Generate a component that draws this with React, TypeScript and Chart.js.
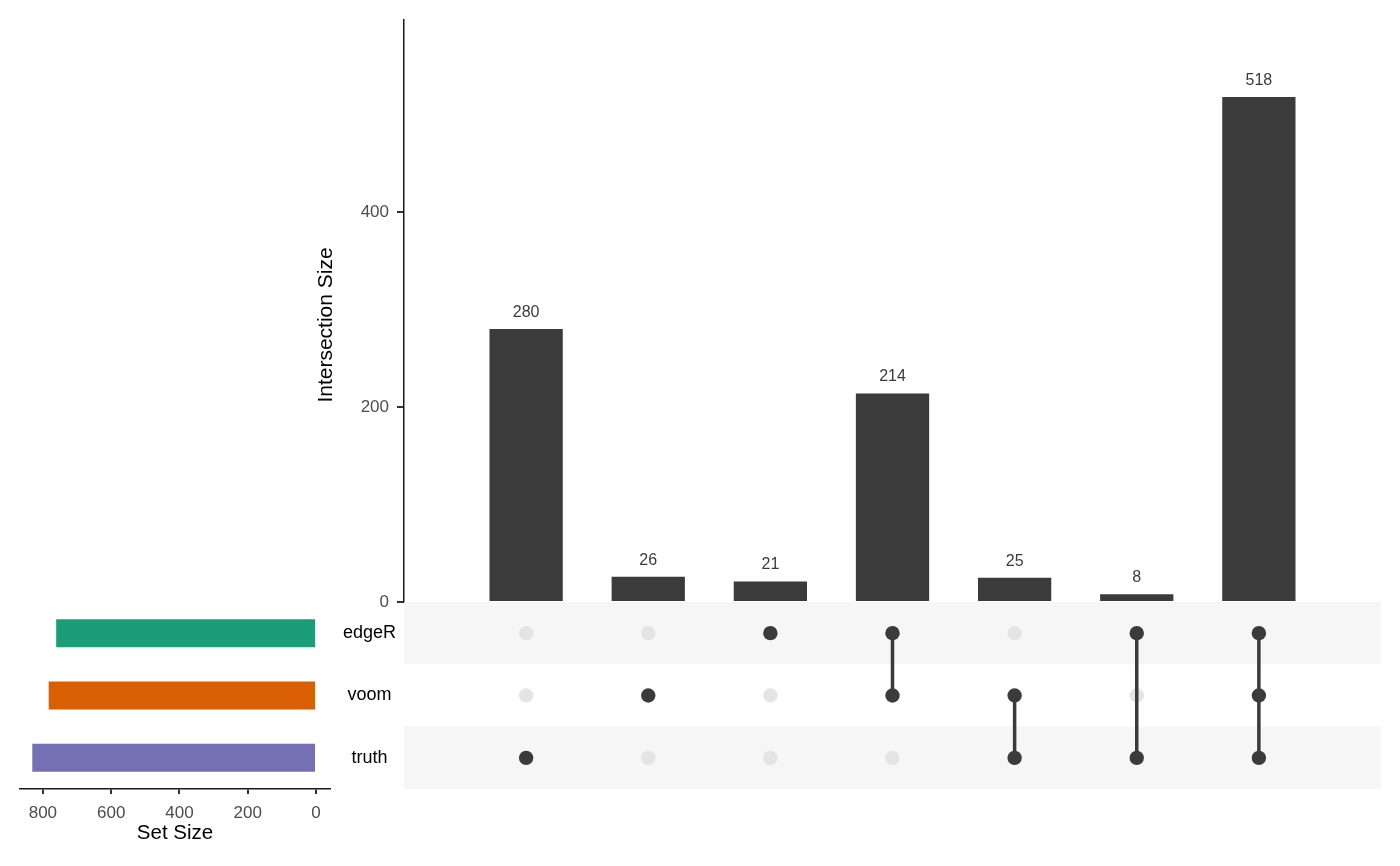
import React, { useEffect, useRef } from 'react';
import { Chart, registerables } from 'chart.js';

Chart.register(...registerables);

const FONT = "'Liberation Sans', Arial, Helvetica, sans-serif";

// ---- data ----
const setNames = ['edgeR', 'voom', 'truth'];
const setSizes = [761, 783, 831];
const setColors = ['#1b9e77', '#d95f02', '#7570b3'];

const intersectionNames = ['truth', 'voom', 'edgeR', 'edgeR-voom', 'truth-voom', 'edgeR-truth', 'edgeR-truth-voom'];
const intersectionSizes = [280, 26, 21, 214, 25, 8, 518];
const intersectionMembers = [
  ['truth'],
  ['voom'],
  ['edgeR'],
  ['edgeR', 'voom'],
  ['voom', 'truth'],
  ['edgeR', 'truth'],
  ['edgeR', 'voom', 'truth'],
];

const intersectionTicks = [0, 200, 400];
const setSizeTicks = [800, 600, 400, 200, 0];

const DARK = '#3b3b3b';
const LIGHT_DOT = '#e4e4e4';
const STRIPE = '#f6f6f6';

const barLabelPlugin = {
  id: 'barLabels',
  afterDatasetsDraw(chart: any) {
    const ctx = chart.ctx;
    const meta = chart.getDatasetMeta(0);
    ctx.save();
    ctx.font = `16px ${FONT}`;
    ctx.fillStyle = '#3b3b3b';
    ctx.textAlign = 'center';
    ctx.textBaseline = 'middle';
    meta.data.forEach((el: any, i: number) => {
      ctx.fillText(String(intersectionSizes[i]), el.x, el.y - 16.5);
    });
    ctx.restore();
  },
};

const yTitlePlugin = {
  id: 'yTitle',
  afterDraw(chart: any) {
    const ctx = chart.ctx;
    const a = chart.chartArea;
    ctx.save();
    ctx.translate(a.left - 78, (a.top + a.bottom) / 2 + 14);
    ctx.rotate(-Math.PI / 2);
    ctx.font = `21px ${FONT}`;
    ctx.fillStyle = '#000';
    ctx.textAlign = 'center';
    ctx.textBaseline = 'middle';
    ctx.fillText('Intersection Size', 0, 0);
    ctx.restore();
  },
};

const stripePlugin = {
  id: 'stripes',
  beforeDatasetsDraw(chart: any) {
    const ctx = chart.ctx;
    const a = chart.chartArea;
    const ys = chart.scales.y;
    ctx.save();
    setNames.forEach((_, r) => {
      if (r % 2 === 0) {
        const y0 = ys.getPixelForValue(r);
        const y1 = ys.getPixelForValue(r + 1);
        ctx.fillStyle = STRIPE;
        ctx.fillRect(a.left, Math.min(y0, y1), a.right - a.left, Math.abs(y1 - y0));
      }
    });
    ctx.restore();
  },
};

function useChart(ref: React.RefObject<HTMLCanvasElement | null>, make: (c: HTMLCanvasElement) => Chart) {
  useEffect(() => {
    if (!ref.current) return;
    const ch = make(ref.current);
    return () => ch.destroy();
  }, []);
}

export default function App() {
  const mainRef = useRef<HTMLCanvasElement>(null);
  const matrixRef = useRef<HTMLCanvasElement>(null);
  const setRef = useRef<HTMLCanvasElement>(null);

  useChart(mainRef, (c) =>
    new Chart(c, {
      type: 'bar',
      data: {
        datasets: [
          {
            label: 'Intersection Size',
            data: intersectionSizes.map((v, i) => ({ x: i + 1, y: v })),
            backgroundColor: DARK,
            barPercentage: 0.6,
            categoryPercentage: 1,
          } as any,
        ],
      },
      options: {
        animation: false,
        responsive: false,
        devicePixelRatio: 1,
        layout: { padding: { top: 20, right: 19, bottom: 18, left: 0 } },
        plugins: { legend: { display: false }, tooltip: { enabled: false } },
        scales: {
          x: { type: 'linear', min: 0, max: 8, offset: false, display: false },
          y: {
            type: 'linear',
            min: 0,
            max: 597,
            afterFit: (s: any) => {
              s.width = 104;
              s.paddingTop = 0;
              s.paddingBottom = 0;
            },
            afterBuildTicks: (s: any) => {
              s.ticks = intersectionTicks.map((v) => ({ value: v }));
            },
            grid: { display: true, drawOnChartArea: false, drawTicks: true, tickLength: 7, color: '#333', lineWidth: 2 },
            border: { display: true, color: '#1a1a1a', width: 1.5 },
            ticks: { color: '#4d4d4d', font: { family: FONT, size: 17 }, padding: 8 },
          },
        },
      } as any,
      plugins: [barLabelPlugin, yTitlePlugin],
    })
  );

  useChart(matrixRef, (c) => {
    const active: any[] = [];
    const inactive: any[] = [];
    const lines: any[] = [];
    intersectionNames.forEach((_, i) => {
      const pts: any[] = [];
      setNames.forEach((s, r) => {
        const p = { x: i + 1, y: r + 0.5 };
        if (intersectionMembers[i].includes(s)) {
          active.push(p);
          pts.push(p);
        } else inactive.push(p);
      });
      if (pts.length > 1) {
        lines.push({
          type: 'line',
          data: pts,
          borderColor: DARK,
          borderWidth: 3.5,
          pointRadius: 0,
          showLine: true,
          fill: false,
          order: 2,
        });
      }
    });
    return new Chart(c, {
      type: 'scatter',
      data: {
        datasets: [
          { data: active, backgroundColor: DARK, borderWidth: 0, pointRadius: 7.2, order: 1 },
          ...lines,
          { data: inactive, backgroundColor: LIGHT_DOT, borderWidth: 0, pointRadius: 7.2, order: 3 },
        ],
      },
      options: {
        animation: false,
        responsive: false,
        devicePixelRatio: 1,
        layout: { padding: { top: 12, right: 19, bottom: 11, left: 104 } },
        plugins: { legend: { display: false }, tooltip: { enabled: false } },
        scales: {
          x: { type: 'linear', min: 0, max: 8, display: false },
          y: { type: 'linear', min: 0, max: 3, reverse: true, display: false },
        },
      } as any,
      plugins: [stripePlugin],
    });
  });

  useChart(setRef, (c) =>
    new Chart(c, {
      type: 'bar',
      data: {
        labels: setNames,
        datasets: [
          {
            label: 'Set Size',
            data: setSizes,
            backgroundColor: setColors,
            barPercentage: 0.45,
            categoryPercentage: 1,
          },
        ],
      },
      options: {
        indexAxis: 'y',
        animation: false,
        responsive: false,
        devicePixelRatio: 1,
        layout: { padding: { top: 12, right: 0, bottom: 0, left: 20 } },
        plugins: { legend: { display: false }, tooltip: { enabled: false } },
        scales: {
          x: {
            type: 'linear',
            min: -41,
            max: 867,
            reverse: true,
            position: 'bottom',
            afterFit: (s: any) => {
              s.height = 67;
              s.paddingLeft = 0;
              s.paddingRight = 0;
            },
            afterBuildTicks: (s: any) => {
              s.ticks = setSizeTicks.map((v) => ({ value: v }));
            },
            grid: { display: true, drawOnChartArea: false, drawTicks: true, tickLength: 5, color: '#333', lineWidth: 2 },
            border: { display: true, color: '#1a1a1a', width: 1.5 },
            ticks: { color: '#4d4d4d', font: { family: FONT, size: 17 }, padding: 9, maxRotation: 0 },
            title: {
              display: true,
              text: 'Set Size',
              color: '#000',
              font: { family: FONT, size: 20.5 },
              padding: { top: 0, bottom: 10 },
            },
          },
          y: {
            type: 'category',
            position: 'right',
            afterFit: (s: any) => {
              s.width = 74;
              s.paddingTop = 0;
              s.paddingBottom = 0;
            },
            grid: { display: false, drawTicks: false, tickLength: 0 },
            border: { display: false },
            ticks: { color: '#000', font: { family: FONT, size: 18 }, crossAlign: 'center', padding: 13 },
          },
        },
      } as any,
    })
  );

  return (
    <div style={{ position: 'fixed', left: 0, top: 0, width: 1400, height: 866, background: '#fff' }}>
      <canvas ref={mainRef} width={1100} height={620} style={{ position: 'absolute', left: 300, top: 0, width: 1100, height: 620 }} />
      <canvas ref={matrixRef} width={1100} height={210} style={{ position: 'absolute', left: 300, top: 590, width: 1100, height: 210 }} />
      <canvas ref={setRef} width={404} height={266} style={{ position: 'absolute', left: 0, top: 590, width: 404, height: 266 }} />
    </div>
  );
}
